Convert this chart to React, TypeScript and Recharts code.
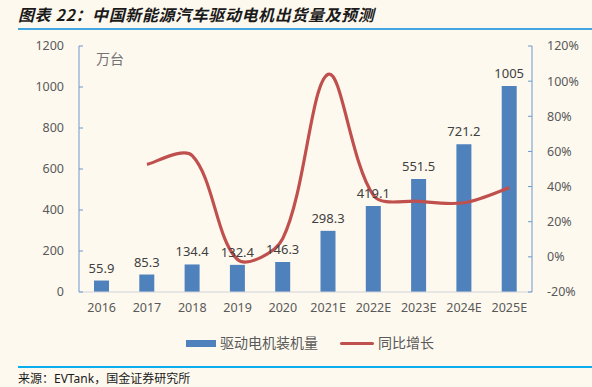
import React from 'react';
import { ComposedChart, Bar, Line, XAxis, YAxis, LabelList } from 'recharts';

const categories = ['2016', '2017', '2018', '2019', '2020', '2021E', '2022E', '2023E', '2024E', '2025E'];
const installs = [55.9, 85.3, 134.4, 132.4, 146.3, 298.3, 419.1, 551.5, 721.2, 1005];
const growth: (number | null)[] = [null, 52.6, 57.6, -1.5, 10.5, 103.9, 35.0, 31.6, 30.8, 39.4];
const leftTicks = [0, 200, 400, 600, 800, 1000, 1200];
const rightTicks = [-20, 0, 20, 40, 60, 80, 100, 120];
const barName = '驱动电机装机量';
const lineName = '同比增长';
const unitLabel = '万台';
const titleText = '图表 22：中国新能源汽车驱动电机出货量及预测';
const sourceText = '来源：EVTank，国金证券研究所';

const data = categories.map((c, i) => ({ name: c, installs: installs[i], growth: growth[i] }));

// Excel-like smoothing: Catmull-Rom tangents weighted by segment lengths
function excelSmooth(context: any) {
  let pts: [number, number][] = [];
  const dist = (a: [number, number], b: [number, number]) => Math.hypot(b[0] - a[0], b[1] - a[1]);
  return {
    areaStart() {},
    areaEnd() {},
    lineStart() {
      pts = [];
    },
    point(x: number, y: number) {
      pts.push([+x, +y]);
    },
    lineEnd() {
      if (!pts.length) return;
      context.moveTo(pts[0][0], pts[0][1]);
      for (let i = 0; i < pts.length - 1; i++) {
        const p0 = pts[i - 1] || pts[i];
        const p1 = pts[i];
        const p2 = pts[i + 1];
        const p3 = pts[i + 2] || p2;
        const d01 = dist(p0, p1);
        const d12 = dist(p1, p2);
        const d23 = dist(p2, p3);
        const s1 = d01 > 0 ? (2 * d12) / (d01 + d12) : 1;
        const s2 = d23 > 0 ? (2 * d12) / (d12 + d23) : 1;
        const f1 = Math.min(s1, 1.5) / 6;
        const f2 = Math.min(s2, 1.5) / 6;
        context.bezierCurveTo(
          p1[0] + (p2[0] - p0[0]) * f1,
          p1[1] + (p2[1] - p0[1]) * f1,
          p2[0] - (p3[0] - p1[0]) * f2,
          p2[1] - (p3[1] - p1[1]) * f2,
          p2[0],
          p2[1]
        );
      }
    },
  };
}

const FONT = '"Noto Sans", "Noto Sans CJK SC", sans-serif';
const tickStyle = { fontSize: 12.5, fill: '#595959', fontFamily: FONT };

export default function App() {
  return (
    <div
      style={{
        position: 'absolute',
        left: 0,
        top: 0,
        width: 592,
        height: 387,
        background: '#FEF9EF',
        overflow: 'hidden',
        fontFamily: FONT,
      }}
    >
      <div
        style={{
          position: 'absolute',
          left: 18,
          top: 3,
          fontSize: 16,
          fontWeight: 'bold',
          fontStyle: 'italic',
          letterSpacing: 0.6,
          color: '#1a1a1a',
          fontFamily: '"Noto Sans CJK SC", "Noto Sans", sans-serif',
          lineHeight: '22px',
          whiteSpace: 'nowrap',
        }}
      >
        {titleText}
      </div>
      <div style={{ position: 'absolute', left: 18, top: 28, width: 574, height: 1.5, background: '#41A5E1' }} />

      <div style={{ position: 'absolute', left: 0, top: 0 }}>
        <ComposedChart
          width={592}
          height={330}
          data={data}
          margin={{ top: 46, right: 0, left: 0, bottom: 8 }}
          barCategoryGap="33%"
        >
          <XAxis
            dataKey="name"
            xAxisId={0}
            height={30}
            axisLine={{ stroke: '#D0D3D9' }}
            tickLine={false}
            tickMargin={5}
            tick={tickStyle}
            interval={0}
          />
          <YAxis
            yAxisId="left"
            orientation="left"
            width={79}
            domain={[0, 1200]}
            ticks={leftTicks}
            interval={0}
            axisLine={{ stroke: '#6B98CF' }}
            tickLine={{ stroke: '#6B98CF' }}
            tickSize={-4}
            tickMargin={19}
            tick={tickStyle}
          />
          <YAxis
            yAxisId="right"
            orientation="right"
            width={60}
            domain={[-20, 120]}
            ticks={rightTicks}
            interval={0}
            axisLine={{ stroke: '#6B98CF' }}
            tickLine={{ stroke: '#6B98CF' }}
            tickSize={-4}
            tickMargin={19}
            tick={tickStyle}
            tickFormatter={(v: number) => `${v}%`}
          />
          <Bar yAxisId="left" dataKey="installs" name={barName} fill="#4F81BD" barSize={15} isAnimationActive={false}>
            <LabelList dataKey="installs" position="top" offset={8} style={{ fontSize: 13, fill: '#404040', fontFamily: FONT }} />
          </Bar>
          <Line
            yAxisId="right"
            dataKey="growth"
            name={lineName}
            type={excelSmooth as any}
            stroke="#C0504D"
            strokeWidth={3.2}
            dot={false}
            activeDot={false}
            isAnimationActive={false}
          />
        </ComposedChart>
      </div>

      <div style={{ position: 'absolute', left: 96, top: 49, fontSize: 14, color: '#737373', lineHeight: '20px' }}>{unitLabel}</div>

      <div style={{ position: 'absolute', left: 186, top: 340, width: 30, height: 7, background: '#4F81BD' }} />
      <div style={{ position: 'absolute', left: 220, top: 333, fontSize: 14, color: '#595959', lineHeight: '20px', whiteSpace: 'nowrap' }}>{barName}</div>
      <div style={{ position: 'absolute', left: 340, top: 341.5, width: 34, height: 3.5, borderRadius: 2, background: '#C0504D' }} />
      <div style={{ position: 'absolute', left: 378, top: 333, fontSize: 14, color: '#595959', lineHeight: '20px', whiteSpace: 'nowrap' }}>{lineName}</div>

      <div style={{ position: 'absolute', left: 18, top: 366, width: 574, height: 1.5, background: '#0AAEEF' }} />
      <div style={{ position: 'absolute', left: 18, top: 370, fontSize: 12, color: '#1a1a1a', lineHeight: '17px', whiteSpace: 'nowrap' }}>{sourceText}</div>
    </div>
  );
}
